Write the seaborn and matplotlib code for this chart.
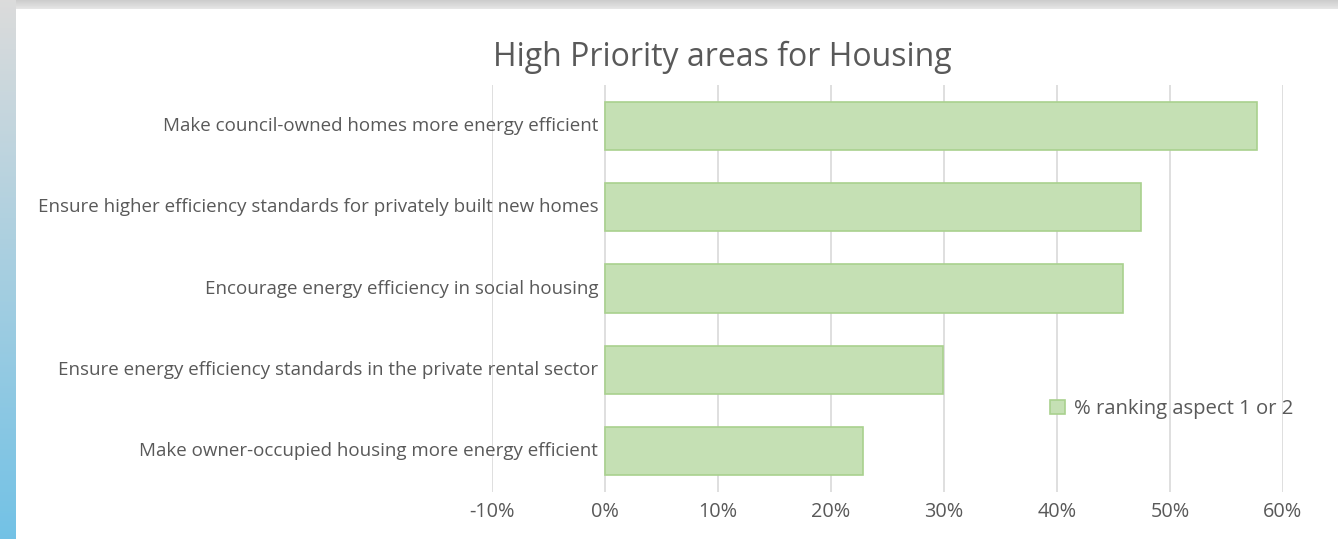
import numpy as np
import pandas as pd
import matplotlib.pyplot as plt
import seaborn as sns
from matplotlib.ticker import PercentFormatter

# data
categories = [
    "Make council-owned homes more energy efficient",
    "Ensure higher efficiency standards for privately built new homes",
    "Encourage energy efficiency in social housing",
    "Ensure energy efficiency standards in the private rental sector",
    "Make owner-occupied housing more energy efficient",
]
shares = [0.577, 0.474, 0.458, 0.299, 0.228]
series_name = "% ranking aspect 1 or 2"
title = "High Priority areas for Housing"

df = pd.DataFrame({"category": categories, "share": shares})

sns.set_theme(style="white")
plt.rcParams['font.family'] = ['Open Sans', 'DejaVu Sans']
plt.rcParams['axes.unicode_minus'] = False
text_color = "#595959"

fig = plt.figure(figsize=(13.38, 5.39), dpi=100)
fig.patch.set_facecolor("white")

# frame around the chart: grey band on top, grey-to-blue strip on the left
top_ax = fig.add_axes([0, 1 - 9 / 539, 1, 9 / 539])
top_ax.imshow(np.linspace(0.80, 0.90, 20).reshape(-1, 1), cmap="gray", vmin=0, vmax=1,
              aspect="auto", extent=[0, 1, 0, 1])
top_ax.axis("off")
left_ax = fig.add_axes([0, 0, 16 / 1338, 1])
grad = np.linspace(0, 1, 256).reshape(-1, 1)
top_rgb = np.array([0.86, 0.86, 0.86])
bot_rgb = np.array([0.45, 0.76, 0.90])
img = top_rgb * (1 - grad[..., None]) + bot_rgb * grad[..., None]
left_ax.imshow(img, aspect="auto", extent=[0, 1, 0, 1])
left_ax.axis("off")

ax = fig.add_axes([492 / 1338, 1 - 492 / 539, (1283 - 492) / 1338, (492 - 85) / 539])
sns.barplot(data=df, x="share", y="category", orient="h", color="#C5E0B4",
            edgecolor="#A9D18E", linewidth=1.2, width=0.59, label=series_name,
            saturation=1, ax=ax, zorder=2)

ax.set_xlim(-0.10, 0.60)
ax.set_xticks(np.arange(-0.10, 0.61, 0.10))
ax.xaxis.set_major_formatter(PercentFormatter(1.0, decimals=0))
ax.grid(axis="x", color="#D9D9D9", linewidth=1.2, zorder=0)
ax.set_axisbelow(True)
ax.tick_params(axis="x", length=0, labelsize=14.3, labelcolor=text_color, pad=7)
ax.set_yticks([])
ax.set_xlabel("")
ax.set_ylabel("")
for s in ax.spines.values():
    s.set_visible(False)

# category labels sit left of the 0% line, as in the original
for i, cat in enumerate(categories):
    ax.text(-0.006, i, cat, ha="right", va="center", fontsize=13.5, color=text_color,
            zorder=3)

fig.text(722 / 1338, 1 - 57 / 539, title, ha="center", va="center", fontsize=23,
         color=text_color)

ax.legend(loc="center left", bbox_to_anchor=(1032 / 1338, 1 - 409 / 539),
          bbox_transform=fig.transFigure, frameon=False, fontsize=14.6,
          labelcolor=text_color, handlelength=0.75, handleheight=0.75,
          handletextpad=0.4)

fig.savefig("out.png", dpi=100)
plt.close(fig)
